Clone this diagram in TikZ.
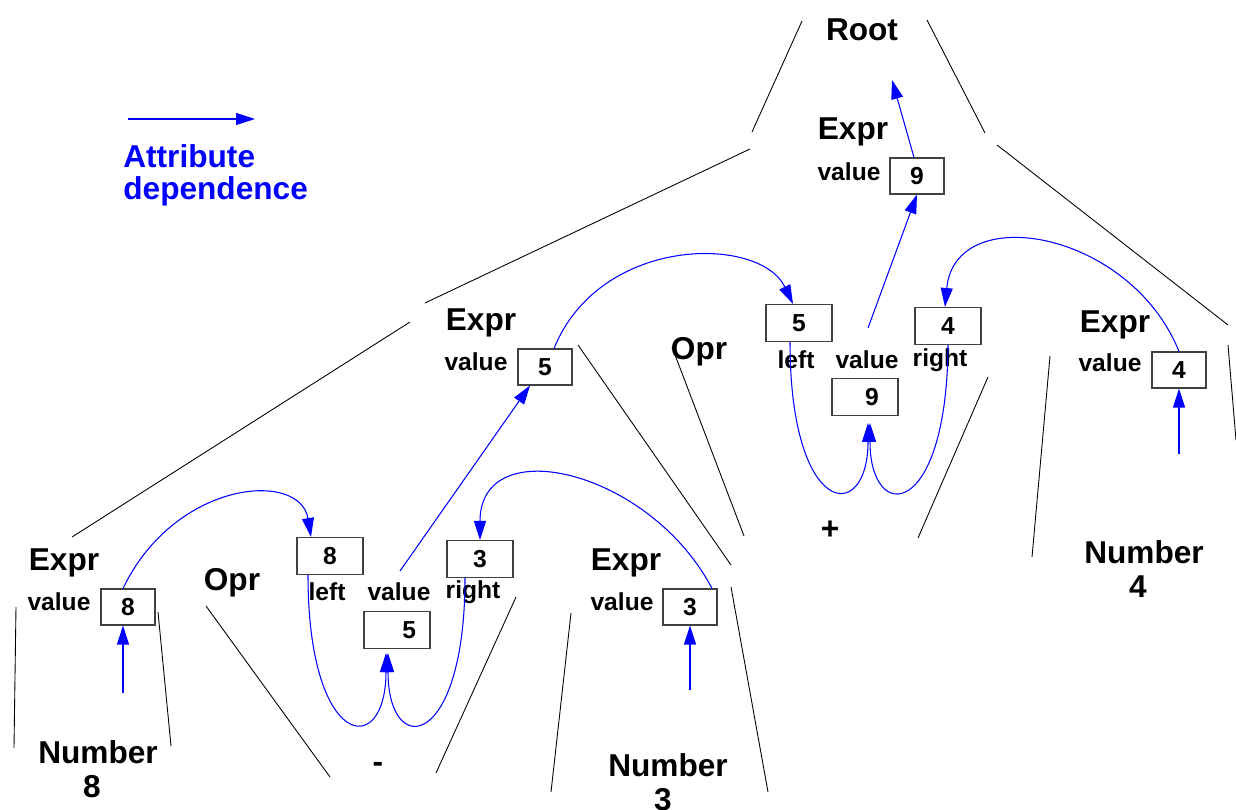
\documentclass[tikz,border=0pt]{standalone}
\usepackage{fontspec}
\setmainfont{Liberation Sans}
\usetikzlibrary{arrows.meta,calc}
\begin{document}
\begin{tikzpicture}[x=0.02cm,y=-0.02cm,
  big/.style={font=\fontsize{18}{20}\selectfont\bfseries, inner sep=0pt},
  small/.style={font=\fontsize{14}{16}\selectfont\bfseries, inner sep=0pt},
  valbox/.style={draw=black!75, line width=0.6pt, inner sep=0pt, minimum width=1.08cm, minimum height=0.72cm, font=\fontsize{14}{16}\selectfont\bfseries},
  opbox/.style={valbox, minimum width=1.32cm, minimum height=0.74cm},
  treeline/.style={black, line width=0.5pt},
  dep/.style={blue, line width=0.6pt, -{Triangle[length=0.38cm,width=0.24cm]}},
  legtext/.style={big, blue, anchor=west}
]
\useasboundingbox (0,0) rectangle (1236,810);

% ---------- legend ----------
\coordinate (legA) at (128,119);
\coordinate (legB) at (255,119);
\draw[dep] (legA) -- (legB);
\node[legtext] (legT1) at (123,156) {Attribute};
\node[legtext] (legT2) at (123,191) {dependence};

% ---------- tree outline lines ----------
\draw[treeline] (802,21) -- (752,132);
\draw[treeline] (927,20) -- (985,133);
\draw[treeline] (750,149) -- (425,303);
\draw[treeline] (997,145) -- (1228,325);
\draw[treeline] (410,322) -- (72,537);
\draw[treeline] (578,345) -- (731,565);
\draw[treeline] (672,347) -- (744,536);
\draw[treeline] (988,377) -- (918,538);
\draw[treeline] (1050,356) -- (1032,557);
\draw[treeline] (1228,345) -- (1236,440);
\draw[treeline] (16,607) -- (14,748);
\draw[treeline] (158,612) -- (171,746);
\draw[treeline] (206,606) -- (330,777);
\draw[treeline] (516,597) -- (436,773);
\draw[treeline] (571,613) -- (551,792);
\draw[treeline] (731,587) -- (768,792);

% ---------- root ----------
\node[big] (root) at (862,30) {Root};
\coordinate (rootTip) at (892,80);

% ---------- top Expr ----------
\node[big] (eTop) at (853,132) {Expr};
\node[small] (vTop) at (849,172) {value};
\node[valbox] (b9) at (917,176) {9};

% ---------- middle Expr ----------
\node[big] (eMid) at (481,323) {Expr};
\node[small] (vMid) at (476,362) {value};
\node[valbox] (bMid5) at (545,367) {5};

% ---------- right Opr (+) ----------
\node[big] (oprR) at (699,352) {Opr};
\node[opbox] (oR5) at (799,323) {5};
\node[opbox] (oR4) at (948,326) {4};
\node[opbox] (oRv) at (865,397) {\hspace*{8pt}9};
\node[small] (lR) at (796,360) {left};
\node[small] (vR) at (867,360) {value};
\node[small] (rR) at (940,360) {right};
\node[big] (plus) at (830,530) {+};

% ---------- right Expr (4) ----------
\node[big] (eR4) at (1115,325) {Expr};
\node[small] (vR4) at (1110,363) {value};
\node[valbox] (bR4) at (1179,370) {4};
\node[big] (num4a) at (1144,552) {Number};
\node[big] (num4b) at (1138,587) {4};

% ---------- left Expr (8) ----------
\node[big] (eL8) at (64,563) {Expr};
\node[small] (vL8) at (59,602) {value};
\node[valbox] (bL8) at (128,607) {8};
\node[big] (num8a) at (98,752) {Number};
\node[big] (num8b) at (92,787) {8};

% ---------- left Opr (-) ----------
\node[big] (oprL) at (232,583) {Opr};
\node[opbox] (oL8) at (330,556) {8};
\node[opbox] (oL3) at (480,559) {3};
\node[opbox] (oLv) at (397,630) {\hspace*{14pt}5};
\node[small] (lL) at (327,592) {left};
\node[small] (vL) at (399,592) {value};
\node[small] (rL) at (473,592) {right};
\node[big] (minus) at (378,767) {-};

% ---------- Expr (3) ----------
\node[big] (eR3) at (626,563) {Expr};
\node[small] (vR3) at (622,602) {value};
\node[valbox] (bR3) at (690,607) {3};
\node[big] (num3a) at (668,765) {Number};
\node[big] (num3b) at (663,800) {3};

% ---------- attribute dependences ----------
% leaves up
\coordinate (n8s) at (123,693);
\draw[dep] (n8s) -- (n8s |- bL8.south);
\coordinate (n3s) at (690,690);
\draw[dep] (n3s) -- (n3s |- bR3.south);
\coordinate (n4s) at (1179,454);
\draw[dep] (n4s) -- (n4s |- bR4.south);

% operands into Opr boxes
\draw[dep] ($(bL8.north)+(-5,0)$) .. controls (175,480) and (300,470) .. ($(oL8.north)+(-19,0)$);
\draw[dep] ($(bR3.north)+(22,0)$) .. controls (650,470) and (480,430) .. (oL3.north);
\draw[dep] ($(bMid5.north)+(9,0)$) .. controls (600,235) and (760,235) .. ($(oR5.north)+(-6,0)$);
\draw[dep] (bR4.north) .. controls (1130,230) and (955,200) .. ($(oR4.north)+(-3,0)$);

% left/right into value (-)
\coordinate (tipL1) at (386,653);
\coordinate (tipL2) at (388,653);
\draw[dep] ($(oL8.south)+(-22,0)$) .. controls (308,750) and (386,760) .. (tipL1);
\draw[dep] ($(oL3.south)+(-15,0)$) .. controls (465,750) and (388,760) .. (tipL2);

% left/right into value (+)
\coordinate (tipR1) at (868,423);
\coordinate (tipR2) at (870,423);
\draw[dep] ($(oR5.south)+(-9,0)$) .. controls (790,519) and (868,525) .. (tipR1);
\draw[dep] (oR4.south) .. controls (947,520) and (870,525) .. (tipR2);

% values upward
\coordinate (sLv) at (400,571);
\draw[dep] (sLv) -- ($(bMid5.south)+(-15,0)$);
\coordinate (sRv) at (868,328);
\draw[dep] (sRv) -- (b9.south);
\draw[dep] ($(b9.north)+(-3,0)$) -- (rootTip);

\end{tikzpicture}
\end{document}
